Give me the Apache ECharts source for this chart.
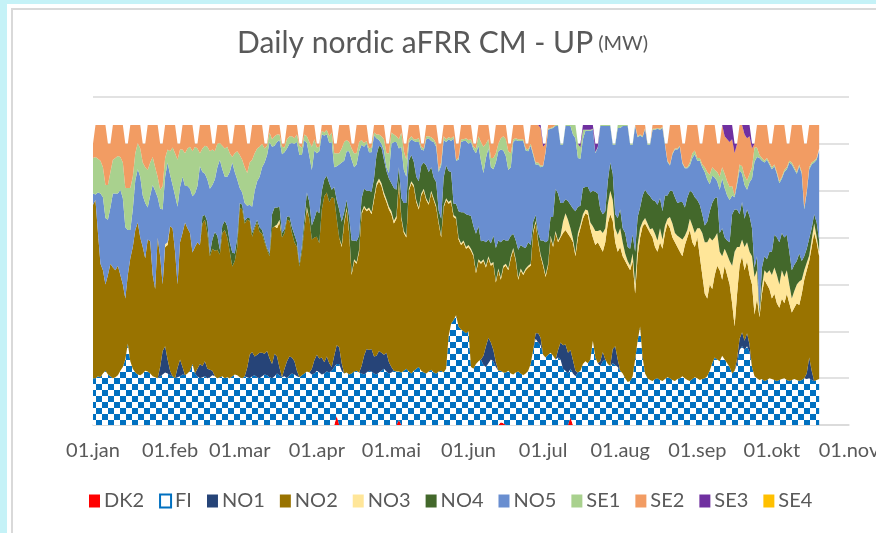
<!DOCTYPE html>
<html><head><meta charset="utf-8">
<script src="https://cdn.jsdelivr.net/npm/echarts@6/dist/echarts.min.js"></script>
<style>
html,body{margin:0;padding:0;width:876px;height:533px;overflow:hidden;background:#C5F2F7;}
#frame{position:absolute;left:7px;top:4px;right:0;bottom:0;background:#fff;}
#border{position:absolute;left:11px;top:8px;right:-10px;bottom:-10px;border-left:2px solid #D9D9D9;border-top:2px solid #D9D9D9;}
#chart{position:absolute;left:0;top:0;width:876px;height:533px;}
</style></head><body>
<div id="frame"></div><div id="border"></div><div id="chart"></div>
<script>
// ---- axis / labels ----
const monthLabels = ['01.jan','01.feb','01.mar','01.apr','01.mai','01.jun','01.jul','01.aug','01.sep','01.okt','01.nov'];
const monthStart = [0,31,59,90,120,151,181,212,243,273,304];
const seriesNames = ['DK2','FI','NO1','NO2','NO3','NO4','NO5','SE1','SE2','SE3','SE4'];

// ---- daily values (MW), Jan 1 .. Oct 20, one row per week ----
const DK2 = [
0,0,0,0,0,0,0, 0,0,0,0,0,0,0, 0,0,0,0,0,0,0, 0,0,0,0,0,0,0, 0,0,0,0,0,0,0,
0,0,0,0,0,0,0, 0,0,0,0,0,0,0, 0,0,0,0,0,0,0, 0,0,0,0,0,0,0, 0,0,0,0,0,0,0,
0,0,0,0,0,0,0, 0,0,0,0,0,0,0, 0,0,0,0,0,0,0, 0,0,0,0,0,0,0,
10,0,0,0,0,0,0, 0,0,0,0,0,0,0, 0,0,0,0,0,0,0, 0,0,0,0,5,0,0,
0,0,0,0,0,0,0, 0,0,0,0,0,0,0, 0,0,0,0,0,0,0, 0,0,0,0,0,0,0, 0,0,0,0,0,0,0,
0,0,0,3,2,0,0, 0,0,0,0,0,0,0, 0,0,0,0,0,0,0, 0,0,0,0,0,0,0,
0,0,0,8,0,0,0,
0,0,0,0,0,0,0, 0,0,0,0,0,0,0, 0,0,0,0,0,0,0, 0,0,0,0,0,0,0, 0,0,0,0,0,0,0,
0,0,0,0,0,0,0, 0,0,0,0,0,0,0, 0,0,0,0,0,0,0, 0,0,0,0,0,0,0, 0,0,0,0,0,0,0,
0,0,0,0,0,0,0, 0,0,0,0,0,0,0, 0,0,0,0,0,0,0,
0,0,0,0,0,0];
const FI = [
50,50,52,51,55,58,54, 52,50,51,53,58,62,70, 87,68,60,56,54,53,55, 58,57,55,52,51,50,52,
54,56,55,53,52,50,51, 52,54,53,55,58,65,55, 52,50,51,52,50,51,53, 52,50,51,52,50,51,50,
52,54,53,51,50,52,51, 50,52,53,51,50,52,54, 53,51,50,52,55,53,51, 52,50,53,55,54,52,51,
53,55,57,56,54,55,58, 56,54,55,57,56,58,62, 55,65,58,55,56,54,55, 57,58,56,55,54,56,58,
57,55,54,56,58,60,57, 55,56,58,57,52,56,58, 60,57,55,58,60,62,58, 56,55,57,59,56,55,57,
58,56,60,95,108,112,117, 105,102,100,98,100,62,60, 65,68,70,64,62,66,70, 68,62,58,55,54,56,58,
55,54,56,57,55,53,55, 58,65,80,92,88,85,75, 72,75,77,74,70,72,70, 60,58,55,52,55,52,56,
58,65,68,66,70,90,72, 66,63,68,70,65,63,66, 64,62,58,55,50,46,47, 52,70,90,105,72,55,50,
48,47,49,50,48,47,49, 51,50,48,47,49,50,52, 50,48,47,49,51,50,48, 49,50,52,58,66,72,70,
68,74,70,66,62,55,58, 65,80,84,80,84,78,62, 52,50,48,49,47,48,50, 49,48,47,48,49,50,48,
47,48,49,48,47,48,50, 49,50,48,47,48,49];
const NO1 = [
0,0,0,0,0,0,0, 0,0,0,0,0,0,0, 0,0,0,0,0,0,0, 0,0,0,0,0,0,10,
25,28,15,5,0,0,10, 18,8,0,0,0,0,0, 8,15,12,16,10,8,5, 0,0,0,0,0,0,0,
0,0,0,0,0,0,10, 25,26,20,24,27,25,22, 26,20,15,24,18,8,0, 8,18,20,17,14,6,0,
0,0,0,0,6,14,17, 15,18,12,16,10,4,12, 20,18,8,0,0,0,0, 0,0,0,8,20,25,22,
24,18,20,23,19,15,20, 12,6,0,0,0,0,0, 0,0,0,0,0,0,0, 0,0,0,0,0,0,0,
0,0,0,0,0,0,0, 0,0,0,0,0,0,0, 0,0,0,10,22,27,18, 12,5,0,0,0,0,0,
0,0,0,0,0,0,0, 0,0,0,6,10,8,0, 0,0,0,0,0,8,18, 25,28,22,20,14,6,0,
0,0,0,0,0,0,0, 0,5,10,0,0,0,15, 20,8,0,0,0,0,0, 0,0,0,0,0,0,0,
0,0,0,0,0,0,0, 0,0,0,0,0,0,0, 0,0,0,0,0,0,0, 0,0,0,0,0,0,0,
0,0,0,0,0,0,0, 6,12,15,10,14,8,0, 0,0,0,0,0,0,0, 0,0,0,0,0,0,0,
0,0,0,0,0,0,0, 6,22,10,0,0,0];
const NO2 = [
185,190,153,121,110,92,106, 120,118,114,117,102,88,65, 73,110,130,152,162,147,135, 120,141,141,108,94,150,118,
71,106,122,154,158,135,89, 125,143,163,155,147,119,135, 135,127,152,151,145,121,130, 134,137,131,153,158,149,135,
117,121,137,181,180,163,158, 143,123,137,141,129,127,119, 108,109,145,136,137,155,149, 145,151,145,133,127,132,118,
132,155,173,164,138,131,126, 123,158,177,175,172,181,168, 135,117,124,160,174,151,105, 118,114,129,162,158,147,150,
144,167,181,181,178,170,161, 163,163,157,163,201,164,147, 140,193,203,196,178,168,187, 194,185,178,189,184,177,158,
142,176,180,141,130,110,103, 93,90,95,90,90,124,120, 97,107,102,101,84,85,82, 92,85,107,97,112,114,107,
123,133,119,98,110,107,110, 110,105,125,118,97,87,95, 86,95,123,116,135,115,112, 120,122,127,120,126,122,144,
152,155,158,158,140,110,120, 129,122,107,125,150,162,137, 111,115,132,125,125,124,118, 123,70,90,95,140,160,160,
157,153,141,135,147,141,156, 164,160,152,148,141,135,128, 142,152,161,146,139,150,132, 111,90,83,92,79,88,100,
97,81,100,94,88,75,47, 69,78,81,75,77,74,88, 66,85,67,91,108,102,95, 86,92,83,77,86,80,92,
83,72,76,82,81,92,105, 110,103,132,158,147,131];
const NO3 = [
0,0,0,0,0,0,0, 0,0,0,0,0,0,0, 0,0,0,0,0,0,0, 0,0,0,0,0,0,0,
0,3,3,0,0,0,0, 0,0,0,0,0,0,0, 0,0,0,0,0,0,0, 0,0,0,0,0,0,0,
0,0,0,0,0,0,0, 0,0,0,0,0,0,0, 0,0,0,0,4,3,0, 0,0,0,0,0,0,0,
0,0,3,0,0,0,0, 0,0,0,0,0,0,0, 0,0,2,2,2,2,2, 2,2,2,2,2,2,2,
2,3,3,3,3,3,3, 3,3,3,3,3,2,2, 2,2,2,2,2,2,2, 2,2,2,2,2,2,2,
2,2,2,2,2,2,2, 2,2,2,2,2,2,2, 2,2,2,2,2,2,2, 2,2,2,2,2,2,2,
2,2,2,2,2,2,2, 2,2,2,2,2,2,2, 2,2,2,2,2,2,2, 12,18,15,10,4,3,5,
4,5,4,5,6,12,15, 12,18,20,15,20,25,22, 15,18,20,15,8,5,5, 8,10,12,10,5,6,5,
4,10,14,12,15,10,8, 5,12,15,10,12,15,18, 10,8,12,18,15,10,30, 45,55,60,50,52,40,35,
20,25,18,22,25,40,80, 50,20,18,25,20,25,30, 40,30,3,8,10,12,20, 25,28,30,25,30,28,25,
20,15,18,20,25,15,10, 8,6,8,10,6,5];
const NO4 = [
0,0,0,0,0,0,0, 0,0,0,0,0,0,0, 0,0,0,0,0,0,0, 0,0,0,0,0,0,0,
0,0,0,0,0,0,0, 0,0,0,0,0,0,0, 0,0,8,5,12,3,10, 20,15,5,8,10,12,10,
15,8,10,5,5,3,2, 3,4,2,3,5,4,3, 2,3,15,20,18,14,5, 4,3,5,6,8,5,3,
6,10,15,18,15,20,28, 32,20,18,18,20,8,12, 20,30,25,10,8,15,35, 20,22,15,15,18,20,18,
22,20,30,35,38,35,30, 30,30,35,28,14,20,30, 35,30,28,25,25,28,30, 28,35,33,25,22,25,12,
18,30,35,33,30,12,14, 28,33,30,35,32,35,30, 40,35,22,20,25,18,22, 28,35,30,38,28,25,30,
22,15,20,30,25,28,22, 25,20,10,6,8,15,25, 35,25,20,30,45,50,35, 20,15,20,25,32,45,28,
20,28,24,25,32,38,42, 40,22,20,18,25,30,28, 15,18,20,15,22,15,18, 20,35,30,22,28,30,32,
35,30,35,38,32,30,32, 25,28,35,38,35,38,40, 30,35,30,35,38,30,25, 20,18,22,28,40,42,38,
20,30,12,15,20,55,45, 40,35,40,30,35,38,30, 10,15,5,20,15,15,20, 25,35,40,45,40,42,38,
35,30,28,25,30,20,15, 15,18,12,10,15,12];
const NO5 = [
12,6,43,75,78,71,59, 60,79,82,77,91,92,76, 48,30,40,53,57,65,55, 59,34,49,96,105,43,51,
80,72,85,55,46,60,83, 59,60,39,45,47,60,57, 60,84,47,44,45,69,58, 56,73,96,60,47,53,75,
96,87,62,16,13,19,13, 14,28,38,41,54,67,82, 99,119,72,66,70,71,84, 82,73,77,90,97,107,116,
97,84,53,49,59,73,61, 66,60,47,44,43,51,21, 36,48,63,55,52,70,86, 78,82,90,57,45,50,41,
42,46,18,6,4,10,4, 6,42,49,51,20,55,35, 28,19,17,22,37,42,17, 13,28,36,28,38,38,41,
57,40,25,34,33,70,46, 55,75,76,78,76,79,82, 86,86,86,72,90,97,81, 71,91,95,99,95,90,75,
73,98,107,116,111,113,104, 97,106,71,54,73,78,79, 96,118,94,95,67,72,62, 62,78,80,84,79,78,52,
50,52,60,60,66,65,41, 49,89,94,91,59,39,31, 74,96,87,109,114,129,111, 96,134,85,77,62,65,52,
55,75,76,81,73,89,54, 36,27,39,51,57,59,41, 42,31,27,37,46,42,47, 50,57,45,29,29,22,17,
46,53,53,48,45,20,13, 27,47,30,36,21,36,53, 113,106,162,114,100,106,93, 88,73,68,63,58,70,70,
95,113,102,93,93,93,50, 60,74,68,55,67,96];
const SE1 = [
38,40,36,35,32,35,37, 38,36,38,40,35,38,42, 45,45,35,29,28,30,35, 38,40,35,30,25,22,20,
25,20,14,25,40,45,50, 40,29,35,40,45,48,50, 40,14,25,30,35,40,38, 30,25,18,25,30,32,20,
6,20,30,35,35,38,35, 45,50,40,35,32,25,15, 10,10,8,10,8,6,8, 5,10,8,7,6,8,10,
8,6,7,15,25,12,6, 5,4,3,5,7,10,15, 14,12,15,20,12,10,12, 15,12,10,5,4,3,4,
5,3,4,6,8,12,15, 21,12,8,6,10,15,20, 18,4,3,2,3,4,3, 2,3,2,4,3,3,2,
3,4,3,2,3,2,1, 2,3,2,3,4,3,3, 5,10,20,28,15,10,10, 12,10,8,12,15,18,20,
15,3,2,2,2,2,2, 2,2,2,2,2,2,1, 1,1,1,1,1,1,1, 1,1,1,1,10,14,15,
12,10,1,1,1,1,1, 1,1,1,1,1,1,1, 1,3,3,1,1,1,1, 1,1,1,1,1,1,1,
1,1,1,1,1,1,1, 1,1,1,1,1,1,1, 1,1,3,5,4,3,3, 3,5,8,10,9,8,10,
14,12,15,15,14,10,2, 3,6,8,10,10,9,12, 15,10,3,3,2,2,2, 2,2,2,2,2,2,2,
2,2,2,2,2,2,2, 2,2,2,2,2,2];
const SE2 = [
15,34,36,38,45,64,44, 30,37,35,33,34,40,47, 47,67,55,30,19,25,20, 25,48,40,34,45,55,49,
45,35,26,28,24,30,17, 6,26,30,25,23,28,3, 5,30,25,22,23,28,6, 8,20,19,22,25,23,10,
14,30,28,32,37,45,31, 20,37,30,25,23,20,5, 2,8,15,12,10,10,3, 4,15,12,12,14,10,2,
4,10,12,18,23,15,4, 3,6,8,5,12,8,10, 10,30,25,18,16,18,5, 10,30,18,16,19,17,5,
4,8,10,10,12,15,10, 10,8,10,12,15,8,8, 17,15,12,15,15,14,3, 5,12,12,13,15,20,28,
20,12,15,13,14,12,17, 15,15,15,14,16,15,3, 5,12,18,23,20,15,15, 15,30,20,14,12,15,8,
10,15,14,15,15,15,5, 6,20,30,40,40,40,20, 8,4,3,2,0,0,0, 0,0,0,0,0,0,0,
0,0,0,0,0,0,0, 0,0,0,0,0,0,0, 0,0,0,0,0,0,0, 0,0,12,10,12,3,0,
0,4,4,3,4,2,0, 18,42,30,25,25,22,20, 25,45,40,30,27,35,15, 22,45,50,53,45,48,30,
35,45,40,45,48,50,45, 40,42,44,44,45,40,20, 4,24,32,35,38,35,20, 25,42,50,60,55,48,25,
18,40,45,50,42,50,68, 50,45,40,38,35,25];
const SE3 = [
0,0,0,0,0,0,0, 0,0,0,0,0,0,0, 0,0,0,0,0,0,0, 0,0,0,0,0,0,0,
0,0,0,0,0,0,0, 0,0,0,0,0,0,0, 0,0,0,0,0,0,0, 0,0,0,0,0,0,0,
0,0,0,0,0,0,0, 0,0,0,0,0,0,0, 0,0,0,0,0,0,0, 0,0,0,0,0,0,0,
0,0,0,0,0,0,0, 0,0,0,0,0,0,0, 0,0,0,0,0,0,0, 0,0,0,0,0,0,0,
0,0,0,0,0,0,0, 0,0,0,0,0,0,0, 0,0,0,0,0,0,0, 0,0,0,0,0,0,0,
0,0,0,0,0,0,0, 0,0,0,0,0,0,0, 0,0,0,0,0,0,0, 0,0,0,0,0,0,0,
0,0,0,0,0,0,0, 0,0,0,0,0,3,3, 0,0,0,0,0,0,0, 0,0,0,0,0,0,0,
4,5,5,5,5,4,9, 3,0,0,0,0,0,0, 0,0,0,0,0,0,0, 0,0,0,0,0,0,0,
0,0,0,0,0,0,0, 0,0,0,0,0,0,0, 0,0,0,0,0,0,0, 0,0,0,0,0,0,0,
0,0,12,15,18,15,10, 0,0,0,10,14,12,5, 0,0,0,0,0,0,0, 0,0,0,0,0,0,0,
0,0,0,0,0,0,0, 0,0,0,0,0,0];
const SE4 = [
0,0,0,0,0,0,0, 0,0,0,0,0,0,0, 0,0,0,0,0,0,0, 0,0,0,0,0,0,0,
0,0,0,0,0,0,0, 0,0,0,0,0,0,0, 0,0,0,0,0,0,0, 0,0,0,0,0,0,0,
0,0,0,0,0,0,0, 0,0,0,0,0,0,0, 0,0,0,0,0,0,0, 0,0,0,0,0,0,0,
0,0,0,0,0,0,0, 0,0,0,0,0,0,0, 0,0,0,0,0,0,0, 0,0,0,0,0,0,0,
0,0,0,0,0,0,0, 0,0,0,0,0,0,0, 0,0,0,0,0,0,0, 0,0,0,0,0,0,0,
0,0,0,0,0,0,0, 0,0,0,0,0,0,0, 0,0,0,0,0,0,0, 0,0,0,0,0,0,0,
0,0,0,0,0,0,0, 0,0,0,0,0,0,0, 0,0,0,0,0,0,0, 0,0,0,0,0,0,0,
0,0,0,0,0,0,0, 0,0,0,0,0,0,0, 0,0,0,0,0,0,0, 0,0,0,0,0,0,0,
0,0,0,0,0,0,0, 0,0,0,0,0,0,0, 0,0,0,0,0,0,0, 0,0,0,0,0,0,0,
0,0,0,0,0,0,0, 0,0,0,0,0,0,0, 0,0,0,0,0,0,0, 0,0,0,0,0,0,0,
0,0,0,0,0,0,0, 0,0,0,0,0,0];

const seriesData = [DK2, FI, NO1, NO2, NO3, NO4, NO5, SE1, SE2, SE3, SE4];
seriesData.forEach((a, i) => { if (a.length !== 293) throw new Error(seriesNames[i] + ' length ' + a.length); });

const colors = ['#FF0000', '#0070C0', '#264478', '#997300', '#FFE699', '#43682B', '#698ED0', '#A9D18E', '#F29C63', '#7030A0', '#FFC000'];

// checkerboard fill for FI
const pc = document.createElement('canvas');
pc.width = 12; pc.height = 12;
const g = pc.getContext('2d');
g.fillStyle = '#FFFFFF'; g.fillRect(0, 0, 12, 12);
g.fillStyle = '#0070C0'; g.fillRect(0, 0, 6, 6); g.fillRect(6, 6, 6, 6);
const fiPattern = { image: pc, repeat: 'repeat' };

// category axis: Jan 1 .. Nov 1 (305 days)
const categories = [];
for (let i = 0; i <= monthStart[monthStart.length - 1]; i++) categories.push('d' + i);
const labelOf = {};
monthStart.forEach((d, i) => { labelOf['d' + d] = monthLabels[i]; });

const FONT = 'Lato, "Open Sans", sans-serif';
const chart = echarts.init(document.getElementById('chart'), null, { renderer: 'canvas' });
chart.setOption({
  animation: false,
  backgroundColor: 'transparent',
  title: {
    text: '{a|Daily nordic aFRR CM - UP} {b|(MW)}',
    left: 237, top: 28, padding: 0,
    textStyle: {
      fontWeight: 'normal',
      rich: {
        a: { fontSize: 30, color: '#595959', fontFamily: FONT, fontWeight: 'normal' },
        b: { fontSize: 20, color: '#595959', fontFamily: FONT, fontWeight: 'normal', verticalAlign: 'bottom', padding: [0, 0, 4, 0] }
      }
    }
  },
  grid: { left: 93, right: 27, top: 97, bottom: 108, containLabel: false, outerBoundsMode: 'none' },
  legend: {
    data: seriesNames.map((n, i) => i === 1
      ? { name: n, itemStyle: { color: '#FFFFFF', borderColor: '#0070C0', borderWidth: 2 } }
      : { name: n }),
    left: 84, top: 486,
    icon: 'rect', itemWidth: 11, itemHeight: 13, itemGap: 15,
    selectedMode: false,
    textStyle: { color: '#595959', fontSize: 20, fontFamily: FONT, padding: [0, 0, 0, -1] }
  },
  xAxis: {
    type: 'category', data: categories, boundaryGap: false,
    axisLine: { lineStyle: { color: '#D9D9D9', width: 1.5 } },
    axisTick: { show: false },
    splitLine: { show: false },
    axisLabel: {
      interval: (idx) => monthStart.indexOf(idx) >= 0,
      formatter: (v) => labelOf[v] || '',
      color: '#595959', fontSize: 20, fontFamily: FONT, margin: 16
    }
  },
  yAxis: {
    type: 'value', min: 0, max: 350, interval: 50,
    axisLabel: { show: false }, axisLine: { show: false }, axisTick: { show: false },
    splitLine: { lineStyle: { color: '#D9D9D9', width: 1.5 } }
  },
  series: seriesNames.map((n, i) => ({
    name: n, type: 'line', stack: 'total', data: seriesData[i],
    symbol: 'none', showSymbol: false, smooth: false,
    lineStyle: { width: 0 },
    itemStyle: { color: colors[i] },
    areaStyle: { color: i === 1 ? fiPattern : colors[i], opacity: 1 },
    emphasis: { disabled: true }
  }))
});
</script></body></html>
